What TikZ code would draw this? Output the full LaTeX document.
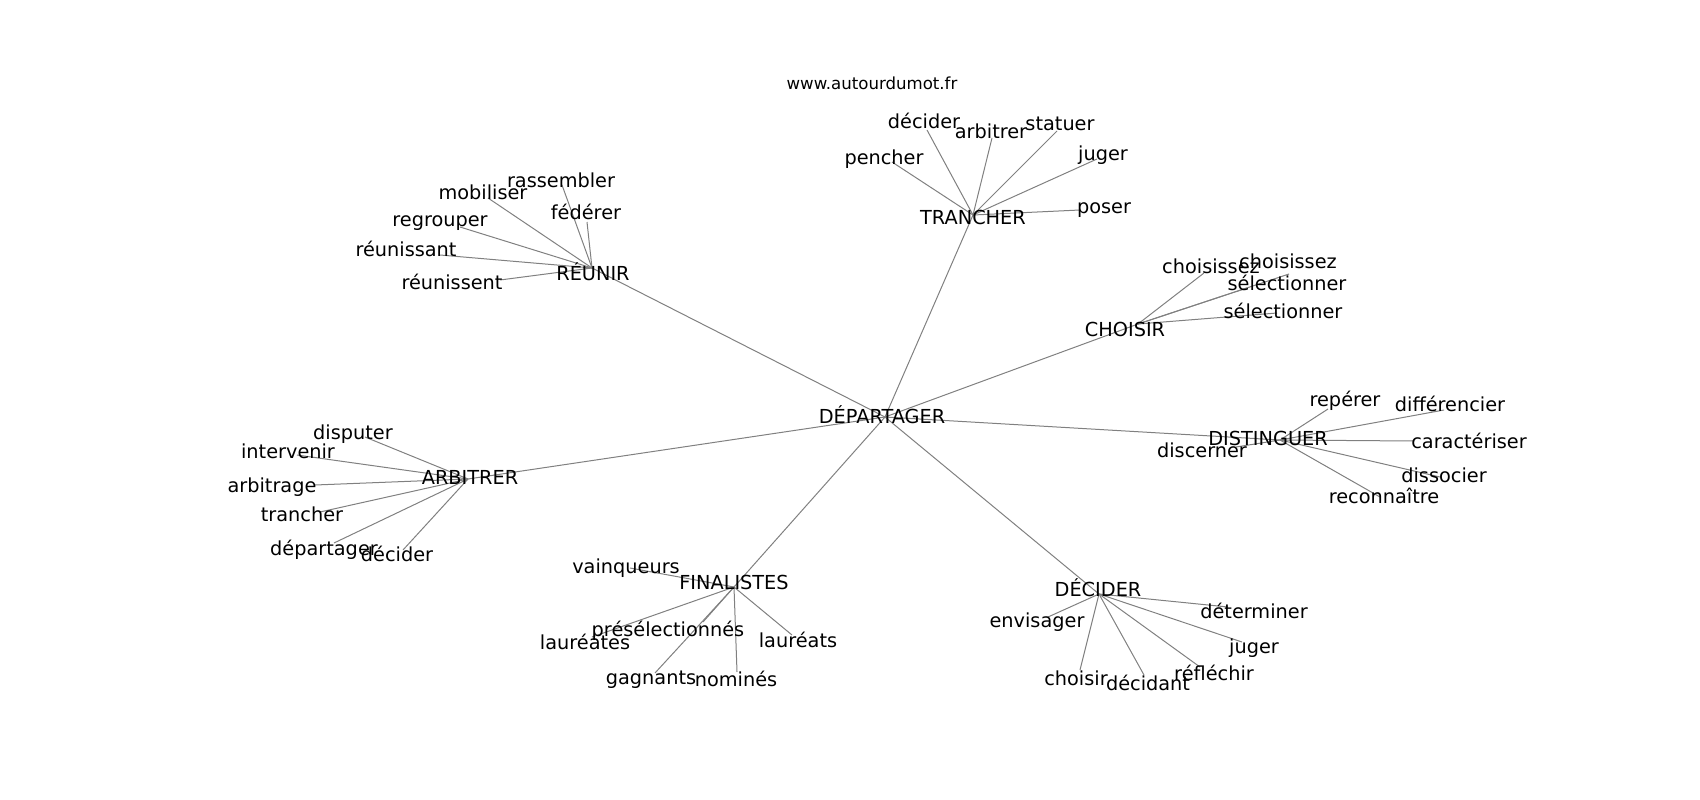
\documentclass[tikz,border=0pt]{standalone}
\usepackage{fontspec}
\setmainfont{DejaVu Sans}
\usetikzlibrary{arrows}

\definecolor{edgegray}{HTML}{808080}

\begin{document}
\begin{tikzpicture}[x=1pt,y=-1pt,
  link/.style={draw=edgegray,line width=1pt},
  word/.style={font=\fontsize{19.3}{23}\selectfont,inner sep=0pt,text height=12.5pt,text depth=0pt}]

\useasboundingbox (0,0) rectangle (1700,800);

% hubs
\coordinate (dep) at (885,417);
\coordinate (tra) at (973,215);
\coordinate (reu) at (592,268);
\coordinate (cho) at (1138,324);
\coordinate (dis) at (1280,440);
\coordinate (dec) at (1099,594);
\coordinate (fin) at (734,587);
\coordinate (arb) at (468,479);

% leaves
\coordinate (tra1) at (892,162);
\coordinate (tra2) at (927,130);
\coordinate (tra3) at (992,138);
\coordinate (tra4) at (1057,131);
\coordinate (tra5) at (1097,159);
\coordinate (tra6) at (1080,210);

\coordinate (reu1) at (562,185);
\coordinate (reu2) at (587,222);
\coordinate (reu3) at (488,198);
\coordinate (reu4) at (460,227);
\coordinate (reu5) at (440,255);
\coordinate (reu6) at (500,280);

\coordinate (cho1) at (1204,273);
\coordinate (cho2) at (1289,274);
\coordinate (cho3) at (1247,288);
\coordinate (cho4) at (1277,313);

\coordinate (dis1) at (1328,409);
\coordinate (dis2) at (1444,410);
\coordinate (dis3) at (1414,441);
\coordinate (dis4) at (1440,477);
\coordinate (dis5) at (1380,497);
\coordinate (dis6) at (1236,447);

\coordinate (dec1) at (1048,617);
\coordinate (dec2) at (1228,607);
\coordinate (dec3) at (1242,642);
\coordinate (dec4) at (1200,667);
\coordinate (dec5) at (1144,675);
\coordinate (dec6) at (1080,670);

\coordinate (fin1) at (630,568);
\coordinate (fin2) at (592,637);
\coordinate (fin3) at (703,622);
\coordinate (fin4) at (655,673);
\coordinate (fin5) at (737,672);
\coordinate (fin6) at (792,635);

\coordinate (arb1) at (365,437);
\coordinate (arb2) at (297,455);
\coordinate (arb3) at (315,485);
\coordinate (arb4) at (320,512);
\coordinate (arb5) at (334,543);
\coordinate (arb6) at (403,550);

% edges
\draw[link] (dep)--(tra);
\draw[link] (dep)--(reu);
\draw[link] (dep)--(cho);
\draw[link] (dep)--(dis);
\draw[link] (dep)--(dec);
\draw[link] (dep)--(fin);
\draw[link] (dep)--(arb);

\draw[link] (tra)--(tra1);
\draw[link] (tra)--(tra2);
\draw[link] (tra)--(tra3);
\draw[link] (tra)--(tra4);
\draw[link] (tra)--(tra5);
\draw[link] (tra)--(tra6);

\draw[link] (reu)--(reu1);
\draw[link] (reu)--(reu2);
\draw[link] (reu)--(reu3);
\draw[link] (reu)--(reu4);
\draw[link] (reu)--(reu5);
\draw[link] (reu)--(reu6);

\draw[link] (cho)--(cho1);
\draw[link] (cho)--(cho2);
\draw[link] (cho)--(cho3);
\draw[link] (cho)--(cho4);

\draw[link] (dis)--(dis1);
\draw[link] (dis)--(dis2);
\draw[link] (dis)--(dis3);
\draw[link] (dis)--(dis4);
\draw[link] (dis)--(dis5);
\draw[link] (dis)--(dis6);

\draw[link] (dec)--(dec1);
\draw[link] (dec)--(dec2);
\draw[link] (dec)--(dec3);
\draw[link] (dec)--(dec4);
\draw[link] (dec)--(dec5);
\draw[link] (dec)--(dec6);

\draw[link] (fin)--(fin1);
\draw[link] (fin)--(fin2);
\draw[link] (fin)--(fin3);
\draw[link] (fin)--(fin4);
\draw[link] (fin)--(fin5);
\draw[link] (fin)--(fin6);

\draw[link] (arb)--(arb1);
\draw[link] (arb)--(arb2);
\draw[link] (arb)--(arb3);
\draw[link] (arb)--(arb4);
\draw[link] (arb)--(arb5);
\draw[link] (arb)--(arb6);

% labels
\node[font=\fontsize{16.6}{20}\selectfont,inner sep=0pt] (site) at (872,83) {www.autourdumot.fr};

\node[word] (dep-l) at (882,417) {DÉPARTAGER};
\node[word] (tra-l) at (973,218) {TRANCHER};
\node[word] (reu-l) at (593,274) {RÉUNIR};
\node[word] (cho-l) at (1125,330) {CHOISIR};
\node[word] (dis-l) at (1268,439) {DISTINGUER};
\node[word] (dec-l) at (1098,590) {DÉCIDER};
\node[word] (fin-l) at (734,583) {FINALISTES};
\node[word] (arb-l) at (470,478) {ARBITRER};

\node[word] (tra1-l) at (884,158) {pencher};
\node[word] (tra2-l) at (924,122) {décider};
\node[word] (tra3-l) at (991,132) {arbitrer};
\node[word] (tra4-l) at (1060,124) {statuer};
\node[word] (tra5-l) at (1103,154) {juger};
\node[word] (tra6-l) at (1104,207) {poser};

\node[word] (reu1-l) at (561,181) {rassembler};
\node[word] (reu2-l) at (586,213) {fédérer};
\node[word] (reu3-l) at (483,193) {mobiliser};
\node[word] (reu4-l) at (440,220) {regrouper};
\node[word] (reu5-l) at (406,250) {réunissant};
\node[word] (reu6-l) at (452,283) {réunissent};

\node[word] (cho1-l) at (1211,267) {choisissez};
\node[word] (cho2-l) at (1288,262) {choisissez};
\node[word] (cho3-l) at (1287,284) {sélectionner};
\node[word] (cho4-l) at (1283,312) {sélectionner};

\node[word] (dis1-l) at (1345,400) {repérer};
\node[word] (dis2-l) at (1450,405) {différencier};
\node[word] (dis3-l) at (1469,442) {caractériser};
\node[word] (dis4-l) at (1444,476) {dissocier};
\node[word] (dis5-l) at (1384,497) {reconnaître};
\node[word] (dis6-l) at (1202,451) {discerner};

\node[word] (dec1-l) at (1037,621) {envisager};
\node[word] (dec2-l) at (1254,612) {déterminer};
\node[word] (dec3-l) at (1254,647) {juger};
\node[word] (dec4-l) at (1214,674) {réfléchir};
\node[word] (dec5-l) at (1148,684) {décidant};
\node[word] (dec6-l) at (1076,679) {choisir};

\node[word] (fin1-l) at (626,567) {vainqueurs};
\node[word] (fin2-l) at (585,643) {lauréates};
\node[word] (fin3-l) at (668,630) {présélectionnés};
\node[word] (fin4-l) at (651,678) {gagnants};
\node[word] (fin5-l) at (736,680) {nominés};
\node[word] (fin6-l) at (798,641) {lauréats};

\node[word] (arb1-l) at (353,433) {disputer};
\node[word] (arb2-l) at (288,452) {intervenir};
\node[word] (arb3-l) at (272,486) {arbitrage};
\node[word] (arb4-l) at (302,515) {trancher};
\node[word] (arb5-l) at (324,549) {départager};
\node[word] (arb6-l) at (397,555) {décider};

\end{tikzpicture}
\end{document}
